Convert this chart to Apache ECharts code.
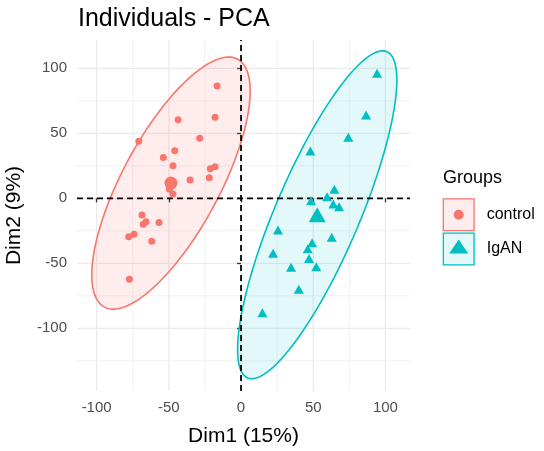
<!DOCTYPE html>
<html><head><meta charset="utf-8">
<script src="https://cdn.jsdelivr.net/npm/echarts@6/dist/echarts.min.js"></script>
<style>html,body{margin:0;padding:0;background:#fff}#c{width:544px;height:451px}</style>
</head><body><div id="c"></div>
<script>
// ---- data ----
const groupNames = ['control', 'IgAN'];
const controlX = [-16.6, -43.6, -18.0, -70.8, -28.6, -45.9, -53.8, -47.1, -18.0, -21.3, -22.0, -35.3, -49.6, -47.1, -68.6, -65.8, -67.7, -56.8, -77.8, -74.1, -61.8, -77.3];
const controlY = [86.4, 60.5, 62.3, 44.0, 46.2, 36.6, 31.5, 25.1, 24.3, 22.8, 15.8, 14.1, 6.9, 3.3, -12.8, -18.0, -20.0, -18.5, -29.5, -27.7, -33.1, -62.3];
const iganX = [94.2, 86.6, 74.3, 48.0, 64.6, 59.6, 48.5, 63.9, 67.9, 25.6, 62.8, 49.2, 46.2, 22.2, 47.1, 34.6, 52.1, 40.0, 14.8];
const iganY = [96.2, 64.1, 46.9, 36.4, 6.9, 1.3, -1.8, -4.4, -6.4, -24.4, -30.0, -34.1, -38.8, -42.3, -46.2, -53.1, -52.6, -70.0, -88.0];
const xTicks = [-100, -50, 0, 50, 100];
const yTicks = [-100, -50, 0, 50, 100];
const xMinor = [-75, -25, 25, 75];
const yMinor = [-125, -75, -25, 25, 75];
const refLines = [0];
const ellipseLevel = 0.95;

// ---- helpers ----
const X_MIN = -113.6, X_MAX = 117.0, Y_MIN = -148.2, Y_MAX = 121.8;
const FONT = "'Liberation Sans', Arial, sans-serif";
const RED = '#F8766D', TEAL = '#00BFC4';

function mean(a) { return a.reduce((s, v) => s + v, 0) / a.length; }
// ggplot2 stat_ellipse(type = "norm")
function dataEllipse(xs, ys, level, nseg) {
  const n = xs.length, mx = mean(xs), my = mean(ys);
  let a = 0, b = 0, c = 0;
  for (let i = 0; i < n; i++) {
    const dx = xs[i] - mx, dy = ys[i] - my;
    a += dx * dx; b += dx * dy; c += dy * dy;
  }
  a /= (n - 1); b /= (n - 1); c /= (n - 1);
  const d = n - 1;
  const fq = (d / 2) * (Math.pow(1 - level, -2 / d) - 1); // qf(level, 2, d)
  const r = Math.sqrt(2 * fq);
  const r11 = Math.sqrt(a), r12 = b / r11, r22 = Math.sqrt(c - b * b / a);
  const pts = [];
  for (let k = 0; k <= nseg; k++) {
    const t = 2 * Math.PI * k / nseg, ct = Math.cos(t), st = Math.sin(t);
    pts.push([mx + r * ct * r11, my + r * (ct * r12 + st * r22)]);
  }
  return pts;
}
function pairs(xs, ys) { return xs.map((x, i) => [x, ys[i]]); }

const groups = [
  { name: groupNames[0], xs: controlX, ys: controlY, color: RED, fill: 'rgba(248,118,109,0.13)', symbol: 'circle', size: 7, bigSize: 13 },
  { name: groupNames[1], xs: iganX, ys: iganY, color: TEAL, fill: 'rgba(0,191,196,0.11)', symbol: 'triangle', size: [10, 9], bigSize: [17, 15] }
];

const series = [];
// background grid lines
series.push({
  type: 'custom', name: 'grid', silent: true, z: 0, data: [[0, 0]],
  renderItem: (params, api) => {
    const ch = [];
    const vline = (v, col, w) => { const p1 = api.coord([v, Y_MIN]), p2 = api.coord([v, Y_MAX]); ch.push({ type: 'line', shape: { x1: p1[0], y1: p1[1], x2: p2[0], y2: p2[1] }, style: { stroke: col, lineWidth: w } }); };
    const hline = (v, col, w) => { const p1 = api.coord([X_MIN, v]), p2 = api.coord([X_MAX, v]); ch.push({ type: 'line', shape: { x1: p1[0], y1: p1[1], x2: p2[0], y2: p2[1] }, style: { stroke: col, lineWidth: w } }); };
    xMinor.forEach(v => vline(v, '#f2f2f2', 1));
    yMinor.forEach(v => hline(v, '#f2f2f2', 1));
    xTicks.forEach(v => vline(v, '#ebebeb', 1.3));
    yTicks.forEach(v => hline(v, '#ebebeb', 1.3));
    return { type: 'group', children: ch };
  }
});
// ellipses
groups.forEach(g => {
  const ell = dataEllipse(g.xs, g.ys, ellipseLevel, 120);
  series.push({
    type: 'custom', name: g.name + ' ellipse', silent: true, z: 1, data: [[0, 0]],
    renderItem: (params, api) => ({
      type: 'polygon', shape: { points: ell.map(p => api.coord(p)) },
      style: { fill: g.fill, stroke: g.color, lineWidth: 1.6 }
    })
  });
});
// dashed reference lines
series.push({
  type: 'custom', name: 'ref', silent: true, z: 2, data: [[0, 0]],
  renderItem: (params, api) => {
    const ch = [];
    refLines.forEach(v => {
      const a1 = api.coord([v, Y_MIN]), a2 = api.coord([v, Y_MAX]);
      const b1 = api.coord([X_MIN, v]), b2 = api.coord([X_MAX, v]);
      ch.push({ type: 'line', shape: { x1: a1[0], y1: a1[1], x2: a2[0], y2: a2[1] }, style: { stroke: '#000', lineWidth: 1.8, lineDash: [6, 4] } });
      ch.push({ type: 'line', shape: { x1: b1[0], y1: b1[1], x2: b2[0], y2: b2[1] }, style: { stroke: '#000', lineWidth: 1.8, lineDash: [6, 4] } });
    });
    return { type: 'group', children: ch };
  }
});
// points + group centroid
groups.forEach(g => {
  const data = pairs(g.xs, g.ys);
  data.push({ value: [mean(g.xs), mean(g.ys)], symbolSize: g.bigSize });
  series.push({
    type: 'scatter', name: g.name, z: 3, symbol: g.symbol, symbolSize: g.size,
    itemStyle: { color: g.color, opacity: 1 }, data: data, animation: false
  });
});

const boxW = 32, boxH = 33;
const ctrlIcon = 'path://M0,0 H32 V33 H0 Z M1.3,1.3 V31.7 H30.7 V1.3 Z M21,16.5 A5,5 0 1,1 11,16.5 A5,5 0 1,1 21,16.5 Z';
const iganIcon = 'path://M0,0 H32 V33 H0 Z M1.3,1.3 V31.7 H30.7 V1.3 Z M6.5,21 L25.5,21 L16,7 Z';

const option = {
  animation: false,
  backgroundColor: '#fff',
  textStyle: { fontFamily: FONT },
  title: [
    { text: 'Individuals - PCA', left: 78, top: 7, padding: 0, textStyle: { fontFamily: FONT, fontSize: 25, fontWeight: 'normal', color: '#000' } },
    { text: 'Groups', left: 443, top: 169, padding: 0, textStyle: { fontFamily: FONT, fontSize: 18, fontWeight: 'normal', color: '#000' } }
  ],
  grid: { left: 77, right: 134, top: 40, bottom: 60, containLabel: false, outerBoundsMode: 'none' },
  xAxis: {
    type: 'value', min: X_MIN, max: X_MAX,
    axisLine: { show: false }, splitLine: { show: false },
    axisTick: { show: true, customValues: xTicks, length: 4, lineStyle: { color: '#333', width: 1.3 } },
    axisLabel: { customValues: xTicks, margin: 9, fontSize: 15, color: '#4d4d4d', fontFamily: FONT },
    name: 'Dim1 (15%)', nameLocation: 'middle', nameGap: 35, nameMoveOverlap: false,
    nameTextStyle: { fontSize: 21, color: '#000', fontFamily: FONT }
  },
  yAxis: {
    type: 'value', min: Y_MIN, max: Y_MAX,
    axisLine: { show: false }, splitLine: { show: false },
    axisTick: { show: true, customValues: yTicks, length: 4, lineStyle: { color: '#333', width: 1.3 } },
    axisLabel: { customValues: yTicks, margin: 10, fontSize: 15, color: '#4d4d4d', fontFamily: FONT },
    name: 'Dim2 (9%)', nameLocation: 'middle', nameGap: 52, nameRotate: 90, nameMoveOverlap: false,
    nameTextStyle: { fontSize: 21, color: '#000', fontFamily: FONT }
  },
  legend: {
    orient: 'vertical', left: 442.7, top: 198.3, padding: 0,
    itemWidth: boxW, itemHeight: boxH, itemGap: 1.2, selectedMode: false,
    data: [{ name: groupNames[0], icon: ctrlIcon }, { name: groupNames[1], icon: iganIcon }],
    textStyle: { fontSize: 16, color: '#000', fontFamily: FONT, padding: [0, 0, 0, 7] }
  },
  graphic: [
    { type: 'rect', left: 442.7, top: 198.3, z: 3, silent: true, shape: { width: boxW, height: boxH }, style: { fill: 'rgba(248,118,109,0.13)' } },
    { type: 'rect', left: 442.7, top: 198.3 + boxH + 1.2, z: 3, silent: true, shape: { width: boxW, height: boxH }, style: { fill: 'rgba(0,191,196,0.11)' } }
  ],
  series: series
};
const chart = echarts.init(document.getElementById('c'), null, { renderer: 'canvas' });
chart.setOption(option);
</script>
</body></html>
